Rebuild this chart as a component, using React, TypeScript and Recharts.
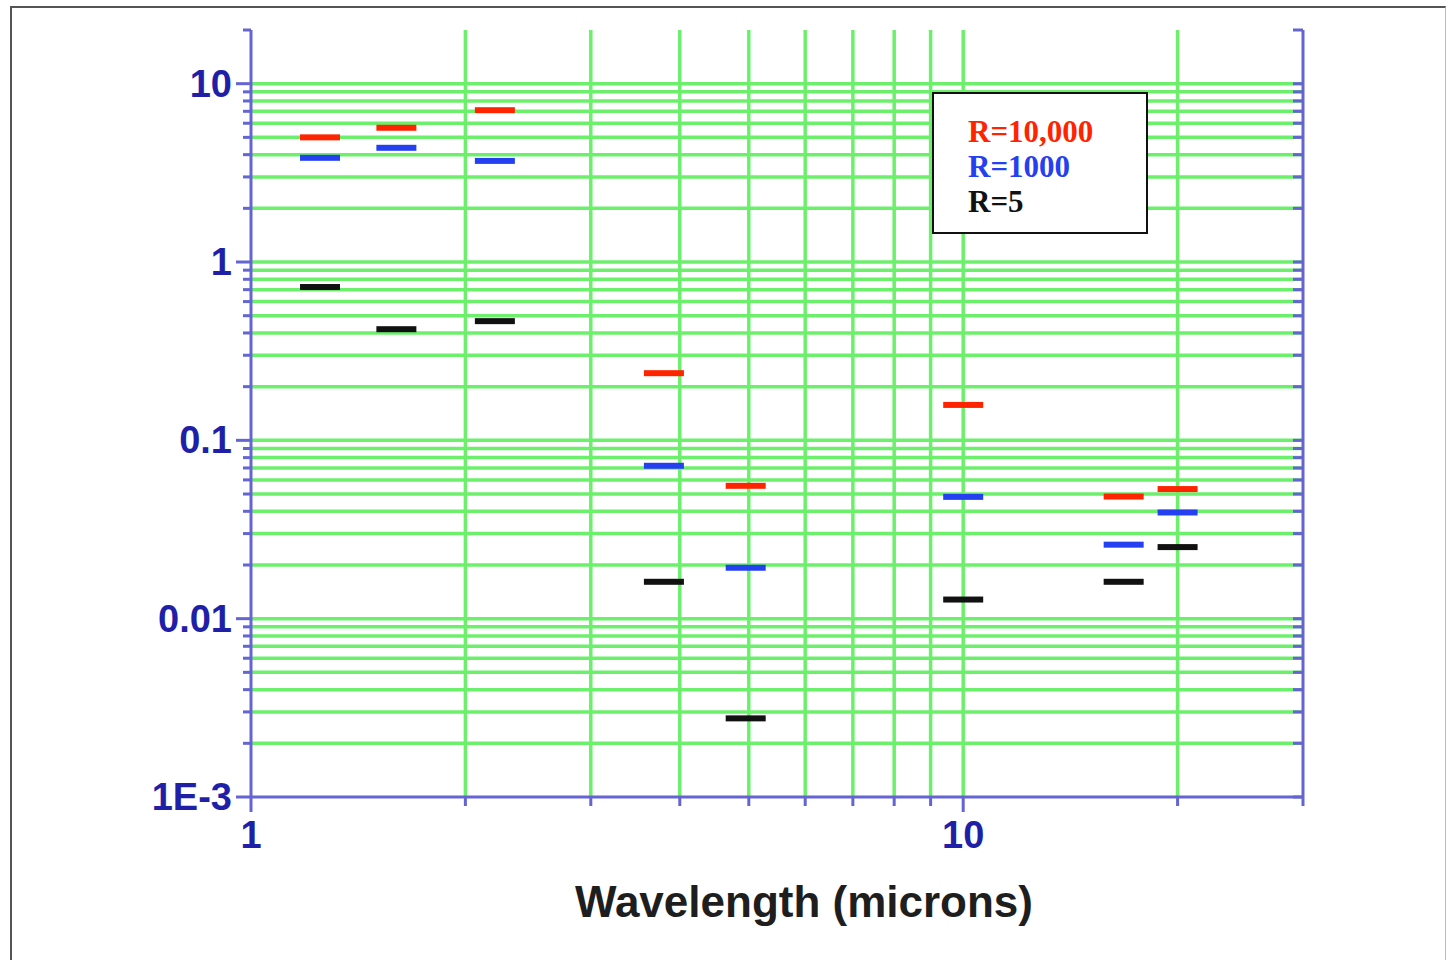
import React from "react";
import {
  ComposedChart,
  Scatter,
  XAxis,
  YAxis,
  CartesianGrid,
  Legend,
  Label,
} from "recharts";

// wavelength of each band (microns)
const wavelengths = [1.25, 1.6, 2.2, 3.8, 4.95, 10, 16.8, 20];
const r10000 = [5.0, 5.66, 7.1, 0.238, 0.0556, 0.158, 0.0484, 0.0533];
const r1000 = [3.84, 4.37, 3.69, 0.072, 0.0193, 0.0482, 0.026, 0.0394];
const r5 = [0.724, 0.42, 0.466, 0.0161, 0.00276, 0.0128, 0.0161, 0.0252];

const seriesNames = ["R=10,000", "R=1000", "R=5"];
const seriesColors = ["#ff2400", "#2440f0", "#111111"];

const xTicks = [1, 2, 3, 4, 5, 6, 7, 8, 9, 10, 20, 30];
const xGrid = [2, 3, 4, 5, 6, 7, 8, 9, 10, 20];
const yDecades = [0.001, 0.01, 0.1, 1];
const yTicks = [...yDecades.flatMap((d) => [1, 2, 3, 4, 5, 6, 7, 8, 9].map((m) => d * m)), 10, 20];
const yGrid = yTicks.filter((v) => v > 0.0011 && v < 19);

const axisColor = "#6464d2";
const labelColor = "#1f1fa8";
const gridColor = "#6cf06c";
const sans = "'Liberation Sans', Arial, sans-serif";

const isDecade = (v: number) => Math.abs(Math.log10(v) - Math.round(Math.log10(v))) < 1e-6;
const fmt = (v: number) => (v < 0.005 ? "1E-3" : String(Number(v.toPrecision(3))));

const toPoints = (vals: number[]) => wavelengths.map((x, i) => ({ x, y: vals[i] }));
const seriesData = [toPoints(r10000), toPoints(r1000), toPoints(r5)];

const Dash = (props: any) => {
  const { cx, cy, fill } = props;
  if (cx == null || cy == null) return null;
  return <rect x={cx - 20} y={cy - 3} width={40} height={6} fill={fill} />;
};

const LeftTick = (props: any) => {
  const { x, y, payload } = props;
  const major = isDecade(payload.value);
  return (
    <g>
      <line x1={x - (major ? 15 : 8)} x2={x} y1={y} y2={y} stroke={axisColor} strokeWidth={3} />
      {major && (
        <text x={x - 19} y={y + 13} textAnchor="end" fontFamily={sans} fontWeight={700} fontSize={38} fill={labelColor}>
          {fmt(payload.value)}
        </text>
      )}
    </g>
  );
};

const RightTick = (props: any) => {
  const { x, y } = props;
  return <line x1={x - 10} x2={x} y1={y} y2={y} stroke={axisColor} strokeWidth={3} />;
};

const BottomTick = (props: any) => {
  const { x, y, payload } = props;
  const major = isDecade(payload.value);
  return (
    <g>
      <line x1={x} x2={x} y1={y} y2={y + (major ? 15 : 9)} stroke={axisColor} strokeWidth={3} />
      {major && (
        <text x={x} y={y + 51} textAnchor="middle" fontFamily={sans} fontWeight={700} fontSize={38} fill={labelColor}>
          {payload.value}
        </text>
      )}
    </g>
  );
};

const LegendBox = (props: any) => (
  <div
    style={{
      width: 216,
      height: 142,
      boxSizing: "border-box",
      border: "2px solid #111",
      background: "#fff",
      padding: "20px 0 0 34px",
      fontFamily: "'Liberation Serif', 'Times New Roman', serif",
      fontWeight: 700,
      fontSize: 31,
      lineHeight: "35px",
    }}
  >
    {(props.payload || []).map((p: any) => (
      <div key={p.value} style={{ color: p.color }}>
        {p.value}
      </div>
    ))}
  </div>
);

export default function App() {
  return (
    <div style={{ position: "absolute", left: 0, top: 0, width: 1447, height: 960, background: "#fff", overflow: "hidden" }}>
      <div
        style={{
          position: "absolute",
          left: 10,
          top: 6,
          width: 1436,
          height: 980,
          boxSizing: "border-box",
          borderLeft: "2px solid #555",
          borderTop: "2px solid #555",
          borderRight: "1px solid #bbb",
        }}
      />
      <ComposedChart
        width={1447}
        height={960}
        margin={{ top: 30, right: 143, left: 131, bottom: 33 }}
        style={{ position: "absolute", left: 0, top: 0 }}
      >
        <CartesianGrid
          xAxisId="b"
          yAxisId="left"
          horizontalValues={yGrid}
          verticalValues={xGrid}
          stroke={gridColor}
          strokeWidth={3.5}
        />
        <XAxis
          xAxisId="b"
          dataKey="x"
          type="number"
          scale="log"
          domain={[1, 30]}
          allowDataOverflow
          ticks={xTicks}
          interval={0}
          height={130}
          tickSize={0}
          tickMargin={0}
          tickLine={false}
          axisLine={{ stroke: axisColor, strokeWidth: 3 }}
          tick={(p: any) => <BottomTick {...p} />}
        >
          <Label
            value="Wavelength (microns)"
            position="insideBottom"
            offset={10}
            dx={27}
            fontSize={44}
            fontWeight={700}
            fontFamily={sans}
            fill="#1e1e1e"
          />
        </XAxis>
        <XAxis
          xAxisId="t"
          orientation="top"
          type="number"
          scale="log"
          domain={[1, 30]}
          allowDataOverflow
          height={0}
          tick={false}
          tickLine={false}
          axisLine={{ stroke: axisColor, strokeWidth: 3 }}
        />
        <YAxis
          yAxisId="left"
          dataKey="y"
          type="number"
          scale="log"
          domain={[0.001, 20]}
          allowDataOverflow
          ticks={yTicks}
          interval={0}
          width={120}
          tickSize={0}
          tickMargin={0}
          tickLine={false}
          axisLine={{ stroke: axisColor, strokeWidth: 3 }}
          tick={(p: any) => <LeftTick {...p} />}
        />
        <YAxis
          yAxisId="right"
          orientation="right"
          type="number"
          scale="log"
          domain={[0.001, 20]}
          allowDataOverflow
          ticks={yTicks}
          interval={0}
          width={1}
          tickSize={0}
          tickMargin={0}
          tickLine={false}
          axisLine={{ stroke: axisColor, strokeWidth: 3 }}
          tick={(p: any) => <RightTick {...p} />}
        />
        {seriesData.map((pts, i) => (
          <Scatter
            key={seriesNames[i]}
            name={seriesNames[i]}
            data={pts}
            xAxisId="b"
            yAxisId="left"
            fill={seriesColors[i]}
            isAnimationActive={false}
            shape={(p: any) => <Dash {...p} />}
          />
        ))}
        <Legend
          layout="vertical"
          align="center"
          verticalAlign="middle"
          content={(p: any) => <LegendBox {...p} />}
          wrapperStyle={{ left: 932, top: 92, width: 216, height: 142 }}
        />
      </ComposedChart>
    </div>
  );
}
